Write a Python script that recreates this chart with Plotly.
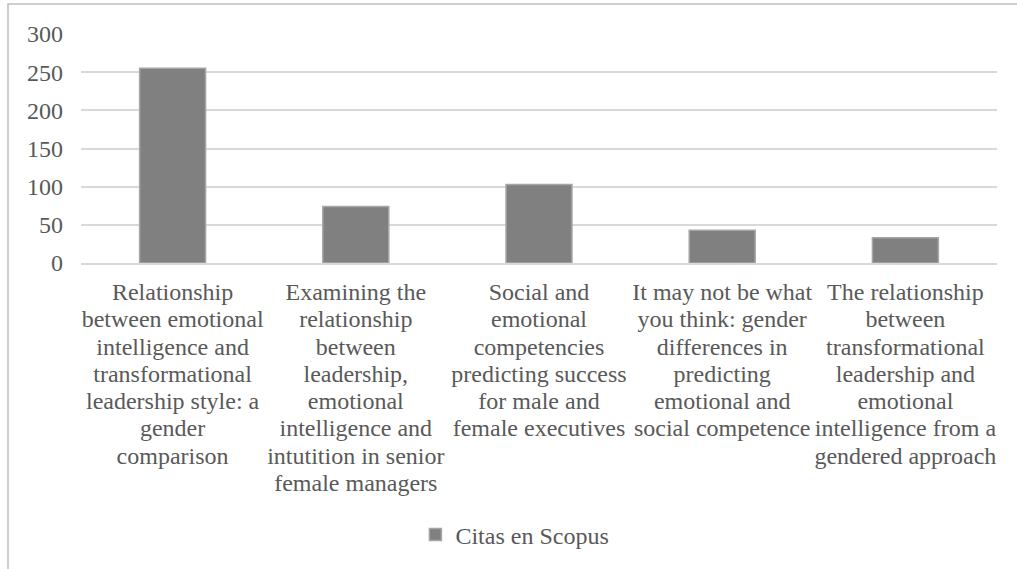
import plotly.graph_objects as go

categories = [
    "Relationship<br>between emotional<br>intelligence and<br>transformational<br>leadership style: a<br>gender<br>comparison",
    "Examining the<br>relationship<br>between<br>leadership,<br>emotional<br>intelligence and<br>intutition in senior<br>female managers",
    "Social and<br>emotional<br>competencies<br>predicting success<br>for male and<br>female executives",
    "It may not be what<br>you think: gender<br>differences in<br>predicting<br>emotional and<br>social competence",
    "The relationship<br>between<br>transformational<br>leadership and<br>emotional<br>intelligence from a<br>gendered approach",
]
citas = [255, 74, 103, 43, 33]
series_name = "Citas en Scopus"
y_ticks = [0, 50, 100, 150, 200, 250, 300]

FONT = "Liberation Serif, Times New Roman, serif"
TXT = "#595959"
GLYPH = 24     # glyph size of the category labels
LINE_BASE = 21  # base size controlling line spacing (1.3 x base)

def styled(label):
    return "<br>".join(f'<span style="font-size:{GLYPH}px">{ln}</span>' for ln in label.split("<br>"))

ticktext = [styled(c) for c in categories]

fig = go.Figure()
fig.add_trace(go.Bar(
    x=categories, y=citas, name=series_name,
    marker=dict(color="#808080", line=dict(color="#a6a6a6", width=1.5)),
    width=0.36, showlegend=True,
))

L, R, T, B = 81, 20, 34, 306
W, H = 1017, 569
pw = W - L - R
ph = H - T - B

def px2x(px):
    return (px - L) / pw

def py2y(py):
    return (H - B - py) / ph

fig.add_shape(type="rect", xref="paper", yref="paper",
              x0=px2x(8), x1=px2x(1030), y0=py2y(4), y1=py2y(600),
              line=dict(color="#bfbfbf", width=1.5), fillcolor="rgba(0,0,0,0)", layer="below")

fig.update_layout(
    width=W, height=H,
    margin=dict(l=L, r=R, t=T, b=B),
    paper_bgcolor="white", plot_bgcolor="white",
    font=dict(family=FONT, size=24, color=TXT),
    bargap=0.64,
    xaxis=dict(tickangle=0, showgrid=False, showline=True, linecolor="#d9d9d9", linewidth=1.5,
               ticks="", tickfont=dict(size=LINE_BASE, color=TXT), automargin=False,
               tickmode="array", tickvals=categories, ticktext=ticktext,
               ticklabelstandoff=10),
    yaxis=dict(range=[0, 300], tickvals=y_ticks, showgrid=True, gridcolor="#d9d9d9", gridwidth=1.5,
               zeroline=False, showline=False, ticks="", ticklabelstandoff=17,
               tickfont=dict(size=24, color=TXT), automargin=False),
    legend=dict(orientation="h", x=0.4737, xanchor="center", y=py2y(535), yanchor="middle",
                font=dict(size=24, color=TXT), itemwidth=30),
    showlegend=True,
)

fig.write_html("out.html")
